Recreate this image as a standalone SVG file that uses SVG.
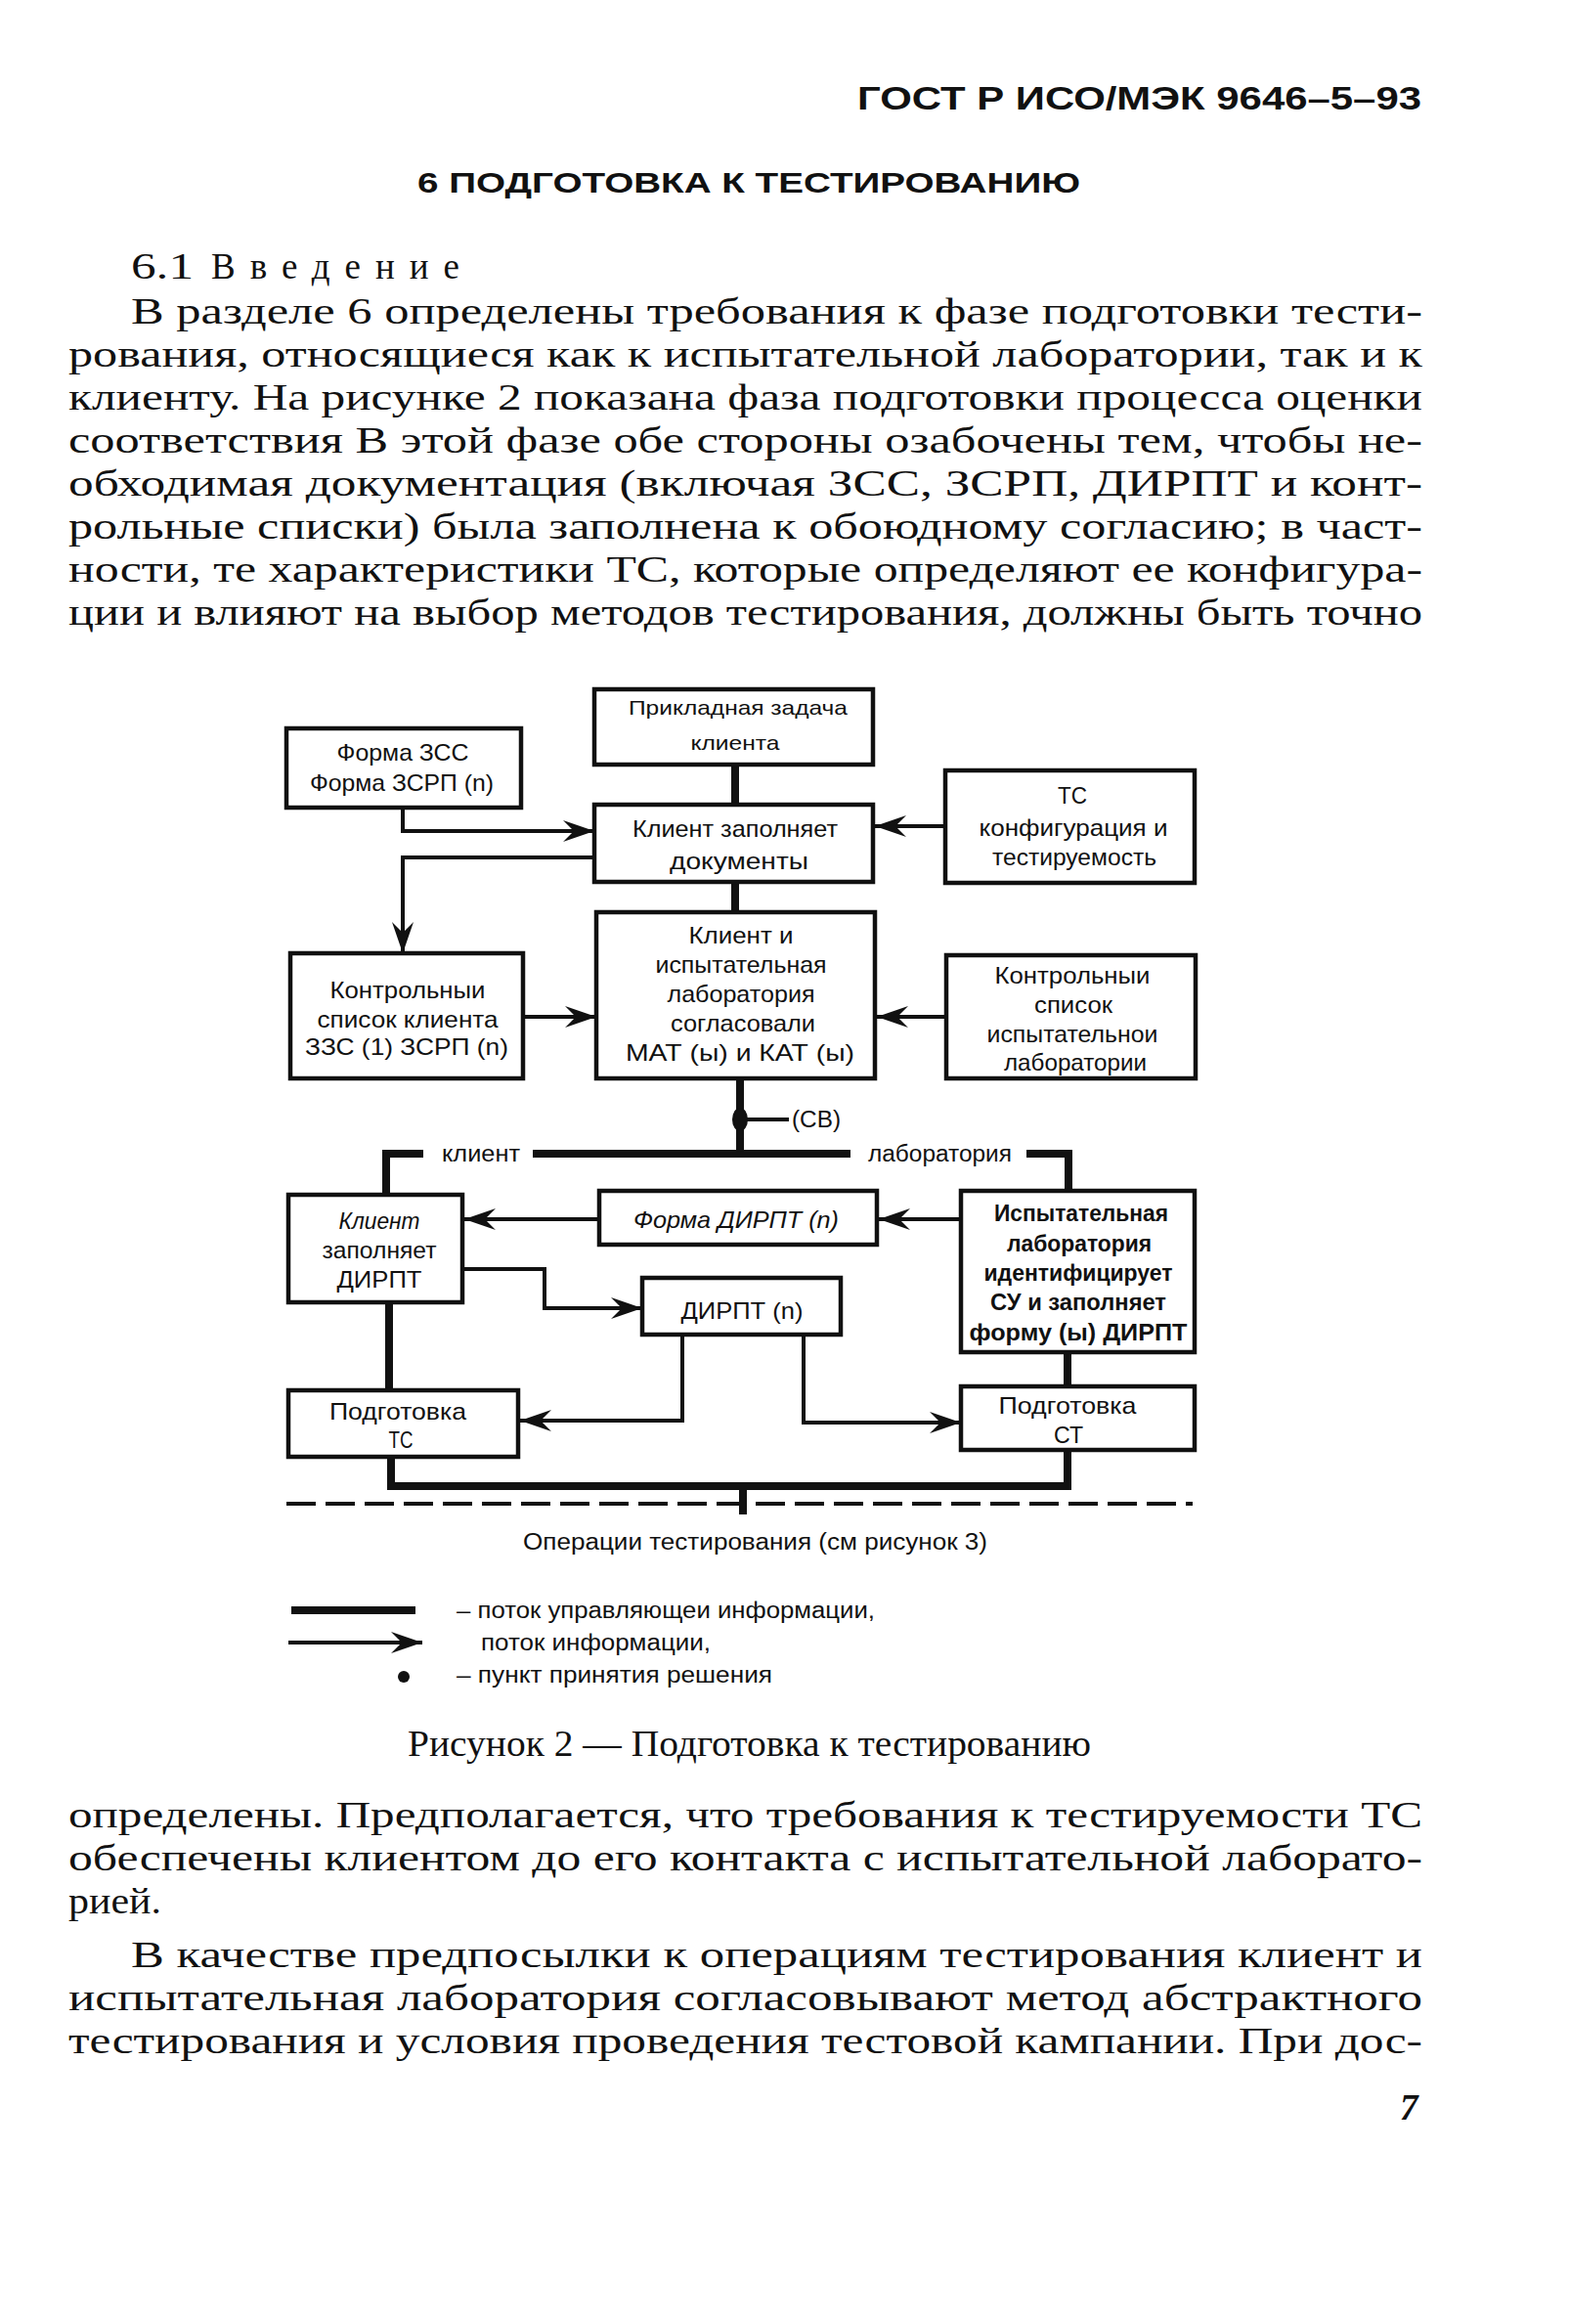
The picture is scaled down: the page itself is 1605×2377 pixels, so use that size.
<svg xmlns="http://www.w3.org/2000/svg" width="1605" height="2377" viewBox="0 0 1605 2377">
<style>
.page{font-family:"Liberation Serif","Times New Roman",serif;font-size:37px;fill:#111}
.hdr{font-family:"Liberation Sans",Arial,sans-serif;font-weight:bold;fill:#111}
.box{fill:none;stroke:#111;stroke-width:4.5}
.t{font-family:"Liberation Sans",Arial,sans-serif;font-size:24px;fill:#111;text-anchor:middle}
.ts{font-family:"Liberation Sans",Arial,sans-serif;font-size:21px;fill:#111;text-anchor:middle}
.tl{font-family:"Liberation Sans",Arial,sans-serif;font-size:23px;fill:#111}
.ctl{fill:none;stroke:#111;stroke-width:8;stroke-linejoin:miter}
.inf{fill:none;stroke:#111;stroke-width:4;marker-end:url(#arr)}
</style>
<defs>
<marker id="arr" viewBox="-34 -13 36 26" refX="0" refY="0" markerWidth="36" markerHeight="26" markerUnits="userSpaceOnUse" orient="auto">
<path d="M0,0 L-32,-11 L-21,0 L-32,11 Z" fill="#111"/>
</marker>
</defs>

<!-- page text -->
<g id="page-text">
<text class="hdr" x="877" y="112" font-size="33" textLength="577" lengthAdjust="spacingAndGlyphs">ГОСТ Р ИСО/МЭК  9646–5–93</text>
<text class="hdr" x="427" y="197" font-size="30" textLength="678" lengthAdjust="spacingAndGlyphs">6 ПОДГОТОВКА К ТЕСТИРОВАНИЮ</text>
<text class="page" x="134" y="285" textLength="64" lengthAdjust="spacingAndGlyphs">6.1</text>
<text class="page" x="216" y="285" textLength="254" lengthAdjust="spacing">Введение</text>
<text class="page" x="134" y="331" textLength="1321" lengthAdjust="spacingAndGlyphs">В разделе 6 определены требования к фазе подготовки  тести-</text>
<text class="page" x="70" y="375" textLength="1385" lengthAdjust="spacingAndGlyphs">рования,  относящиеся как к испытательной лаборатории, так и к</text>
<text class="page" x="70" y="419" textLength="1385" lengthAdjust="spacingAndGlyphs">клиенту. На рисунке 2 показана фаза подготовки процесса оценки</text>
<text class="page" x="70" y="463" textLength="1385" lengthAdjust="spacingAndGlyphs">соответствия  В этой фазе обе стороны озабочены тем,  чтобы не-</text>
<text class="page" x="70" y="507" textLength="1385" lengthAdjust="spacingAndGlyphs">обходимая документация (включая ЗСС, ЗСРП,  ДИРПТ и конт-</text>
<text class="page" x="70" y="551" textLength="1385" lengthAdjust="spacingAndGlyphs">рольные списки) была заполнена к обоюдному  согласию; в част-</text>
<text class="page" x="70" y="595" textLength="1385" lengthAdjust="spacingAndGlyphs">ности, те характеристики ТС, которые  определяют ее конфигура-</text>
<text class="page" x="70" y="639" textLength="1385" lengthAdjust="spacingAndGlyphs">ции и влияют на выбор методов тестирования, должны быть точно</text>

<text class="page" x="417" y="1796" font-size="32" textLength="699" lengthAdjust="spacingAndGlyphs">Рисунок 2 — Подготовка к тестированию</text>
<text class="page" x="70" y="1869" textLength="1385" lengthAdjust="spacingAndGlyphs">определены.  Предполагается, что требования к тестируемости ТС</text>
<text class="page" x="70" y="1913" textLength="1385" lengthAdjust="spacingAndGlyphs">обеспечены клиентом до его контакта с испытательной лаборато-</text>
<text class="page" x="70" y="1957" textLength="95" lengthAdjust="spacingAndGlyphs">рией.</text>
<text class="page" x="134" y="2012" textLength="1321" lengthAdjust="spacingAndGlyphs">В качестве предпосылки к операциям  тестирования клиент и</text>
<text class="page" x="70" y="2056" textLength="1385" lengthAdjust="spacingAndGlyphs">испытательная лаборатория  согласовывают  метод абстрактного</text>
<text class="page" x="70" y="2100" textLength="1385" lengthAdjust="spacingAndGlyphs">тестирования и условия  проведения тестовой кампании. При дос-</text>
<text class="page" x="1432" y="2168" font-size="34" font-style="italic" font-weight="bold">7</text>
</g>

<!-- connectors -->
<g id="connectors">
<path class="ctl" d="M752,782 V823"/>
<path class="ctl" d="M752,902 V933"/>
<path class="ctl" d="M757,1103 V1180"/>
<ellipse cx="757" cy="1145" rx="8" ry="12" fill="#111"/>
<path d="M757,1145 H807" stroke="#111" stroke-width="4" fill="none"/>
<path class="ctl" d="M395,1222 V1180 H433"/>
<path class="ctl" d="M545,1180 H870"/>
<path class="ctl" d="M1050,1180 H1093 V1218"/>
<path class="ctl" d="M398,1332 V1422"/>
<path class="ctl" d="M1092,1383 V1418"/>
<path class="ctl" d="M400,1490 V1520 H1092 V1483"/>
<path class="ctl" d="M760,1520 V1549"/>
<path d="M293,1538 H1220" stroke="#111" stroke-width="4" stroke-dasharray="30 10" fill="none"/>

<path class="inf" d="M412,826 V850 H608"/>
<path class="inf" d="M608,877 H412 V975"/>
<path class="inf" d="M967,845 H895"/>
<path class="inf" d="M535,1040 H610" stroke-width="6"/>
<path class="inf" d="M968,1040 H897"/>
<path class="inf" d="M983,1247 H899"/>
<path class="inf" d="M613,1247 H475"/>
<path class="inf" d="M473,1298 H557 V1338 H657"/>
<path class="inf" d="M698,1365 V1453 H532"/>
<path class="inf" d="M822,1365 V1455 H983"/>

<text class="tl" x="452" y="1188" textLength="80" lengthAdjust="spacingAndGlyphs">клиент</text>
<text class="tl" x="888" y="1188" textLength="147" lengthAdjust="spacingAndGlyphs">лаборатория</text>
<text class="tl" x="810" y="1153" textLength="50" lengthAdjust="spacingAndGlyphs">(СВ)</text>
</g>

<!-- nodes -->
<g id="n-task">
<rect class="box" x="608" y="705" width="285" height="77"/>
<text class="ts" x="755" y="731" textLength="224" lengthAdjust="spacingAndGlyphs">Прикладная задача</text>
<text class="ts" x="752" y="767" textLength="91" lengthAdjust="spacingAndGlyphs">клиента</text>
</g>
<g id="n-forms">
<rect class="box" x="293" y="745" width="240" height="81"/>
<text class="t" x="412" y="778" textLength="135" lengthAdjust="spacingAndGlyphs">Форма ЗСС</text>
<text class="t" x="411" y="809" textLength="188" lengthAdjust="spacingAndGlyphs">Форма ЗСРП (n)</text>
</g>
<g id="n-fill-docs">
<rect class="box" x="608" y="823" width="285" height="79"/>
<text class="t" x="752" y="856" textLength="210" lengthAdjust="spacingAndGlyphs">Клиент заполняет</text>
<text class="t" x="756" y="889" textLength="142" lengthAdjust="spacingAndGlyphs">документы</text>
</g>
<g id="n-ts-config">
<rect class="box" x="967" y="788" width="255" height="115"/>
<text class="t" x="1097" y="822" textLength="30" lengthAdjust="spacingAndGlyphs">ТС</text>
<text class="t" x="1098" y="855" textLength="193" lengthAdjust="spacingAndGlyphs">конфигурация и</text>
<text class="t" x="1099" y="885" textLength="168" lengthAdjust="spacingAndGlyphs">тестируемость</text>
</g>
<g id="n-client-check">
<rect class="box" x="297" y="975" width="238" height="128"/>
<text class="t" x="417" y="1021" textLength="159" lengthAdjust="spacingAndGlyphs">Контрольныи</text>
<text class="t" x="417" y="1051" textLength="185" lengthAdjust="spacingAndGlyphs">список клиента</text>
<text class="t" x="416" y="1079" textLength="208" lengthAdjust="spacingAndGlyphs">ЗЗС (1)  ЗСРП (n)</text>
</g>
<g id="n-agreed">
<rect class="box" x="610" y="933" width="285" height="170"/>
<text class="t" x="758" y="965" textLength="107" lengthAdjust="spacingAndGlyphs">Клиент и</text>
<text class="t" x="758" y="995" textLength="175" lengthAdjust="spacingAndGlyphs">испытательная</text>
<text class="t" x="758" y="1025" textLength="151" lengthAdjust="spacingAndGlyphs">лаборатория</text>
<text class="t" x="760" y="1055" textLength="148" lengthAdjust="spacingAndGlyphs">согласовали</text>
<text class="t" x="757" y="1085" textLength="234" lengthAdjust="spacingAndGlyphs">МАТ (ы)  и КАТ (ы)</text>
</g>
<g id="n-lab-check">
<rect class="box" x="968" y="977" width="255" height="126"/>
<text class="t" x="1097" y="1006" textLength="159" lengthAdjust="spacingAndGlyphs">Контрольныи</text>
<text class="t" x="1098" y="1036" textLength="80" lengthAdjust="spacingAndGlyphs">список</text>
<text class="t" x="1097" y="1066" textLength="175" lengthAdjust="spacingAndGlyphs">испытательнои</text>
<text class="t" x="1100" y="1095" textLength="146" lengthAdjust="spacingAndGlyphs">лаборатории</text>
</g>
<g id="n-client-fill">
<rect class="box" x="295" y="1222" width="178" height="110"/>
<text class="t" x="388" y="1257" font-style="italic" textLength="83" lengthAdjust="spacingAndGlyphs">Клиент</text>
<text class="t" x="388" y="1287" textLength="117" lengthAdjust="spacingAndGlyphs">заполняет</text>
<text class="t" x="388" y="1317" textLength="87" lengthAdjust="spacingAndGlyphs">ДИРПТ</text>
</g>
<g id="n-form-dirpt">
<rect class="box" x="613" y="1218" width="284" height="55"/>
<text class="t" x="753" y="1256" font-style="italic" textLength="210" lengthAdjust="spacingAndGlyphs">Форма ДИРПТ (n)</text>
</g>
<g id="n-lab-ident">
<rect class="box" x="983" y="1218" width="239" height="165"/>
<text class="t" x="1106" y="1249" font-weight="bold" textLength="178" lengthAdjust="spacingAndGlyphs">Испытательная</text>
<text class="t" x="1104" y="1280" font-weight="bold" textLength="148" lengthAdjust="spacingAndGlyphs">лаборатория</text>
<text class="t" x="1103" y="1310" font-weight="bold" textLength="193" lengthAdjust="spacingAndGlyphs">идентифицирует</text>
<text class="t" x="1103" y="1340" font-weight="bold" textLength="180" lengthAdjust="spacingAndGlyphs">СУ и заполняет</text>
<text class="t" x="1103" y="1371" font-weight="bold" textLength="223" lengthAdjust="spacingAndGlyphs">форму (ы)  ДИРПТ</text>
</g>
<g id="n-dirpt">
<rect class="box" x="657" y="1307" width="203" height="58"/>
<text class="t" x="759" y="1349" textLength="125" lengthAdjust="spacingAndGlyphs">ДИРПТ (n)</text>
</g>
<g id="n-prep-ts">
<rect class="box" x="295" y="1422" width="235" height="68"/>
<text class="t" x="407" y="1452" textLength="140" lengthAdjust="spacingAndGlyphs">Подготовка</text>
<text class="t" x="410" y="1481" textLength="25" lengthAdjust="spacingAndGlyphs">ТС</text>
</g>
<g id="n-prep-st">
<rect class="box" x="983" y="1418" width="239" height="65"/>
<text class="t" x="1092" y="1446" textLength="141" lengthAdjust="spacingAndGlyphs">Подготовка</text>
<text class="t" x="1093" y="1476" textLength="30" lengthAdjust="spacingAndGlyphs">СТ</text>
</g>
<g id="n-ops">
<text class="tl" x="535" y="1585" textLength="475" lengthAdjust="spacingAndGlyphs">Операции тестирования  (см  рисунок 3)</text>
</g>

<!-- legend -->
<g id="legend">
<path d="M298,1647 H425" stroke="#111" stroke-width="8" fill="none"/>
<path class="inf" d="M295,1680 H432" stroke-width="3"/>
<circle cx="413" cy="1715" r="6" fill="#111"/>
<text class="tl" x="467" y="1655" textLength="428" lengthAdjust="spacingAndGlyphs">– поток управляющеи информации,</text>
<text class="tl" x="492" y="1688" textLength="235" lengthAdjust="spacingAndGlyphs">поток информации,</text>
<text class="tl" x="467" y="1721" textLength="323" lengthAdjust="spacingAndGlyphs">– пункт принятия решения</text>
</g>
</svg>
